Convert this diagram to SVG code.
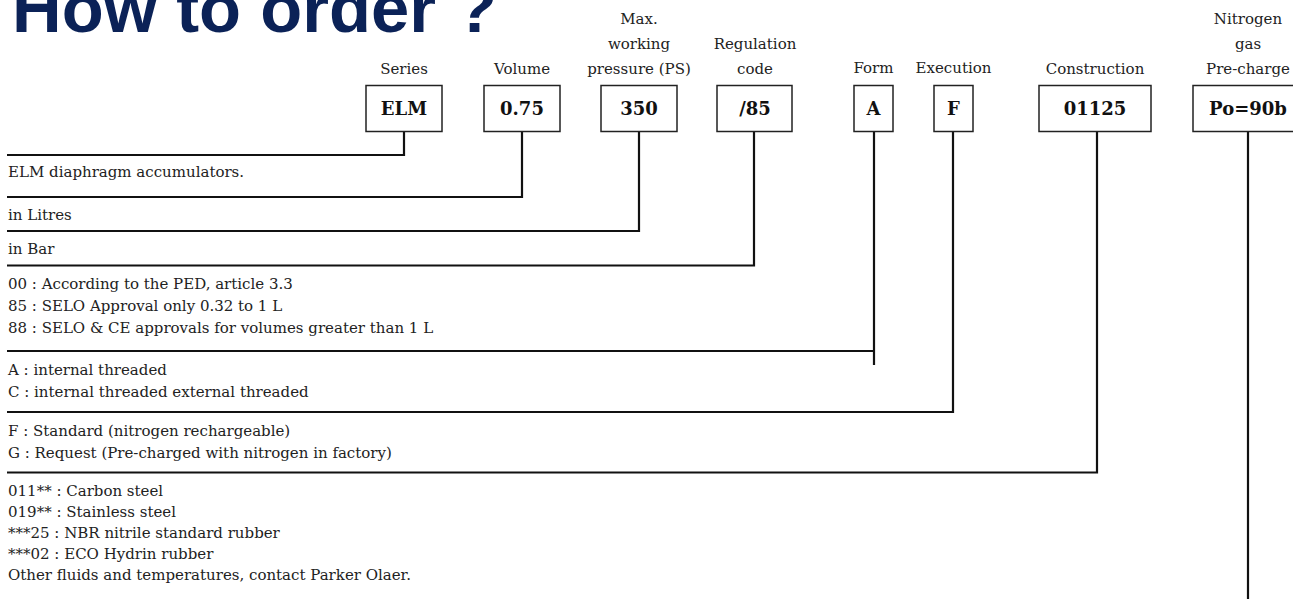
<svg xmlns="http://www.w3.org/2000/svg" width="1293" height="599" viewBox="0 0 1293 599">
<style>
.title{font-family:"Liberation Sans",Arial,sans-serif;font-weight:bold;font-size:68px;fill:#0b2257}
.lbl{font-family:"DejaVu Serif",serif;font-size:15px;fill:#222;text-anchor:middle}
.desc{font-family:"DejaVu Serif",serif;font-size:15px;fill:#222}
.box{fill:#fff;stroke:#222;stroke-width:1.5}
.code{font-family:"DejaVu Serif",serif;font-weight:bold;font-size:18px;fill:#111;text-anchor:middle}
.conn{fill:none;stroke:#111;stroke-width:2.2}
</style>
<rect width="1293" height="599" fill="#fff"/>
<text class="title" x="12" y="32" textLength="485" lengthAdjust="spacingAndGlyphs">How to order ?</text>

<g id="connectors">
<path class="conn" d="M404,131.5 V155 H7"/>
<path class="conn" d="M522,131.5 V197 H7"/>
<path class="conn" d="M639,131.5 V231 H7"/>
<path class="conn" d="M754,131.5 V265.5 H7"/>
<path class="conn" d="M874,131.5 V365 M874,351 H7"/>
<path class="conn" d="M953,131.5 V412 H7"/>
<path class="conn" d="M1097,131.5 V472.5 H7"/>
<path class="conn" d="M1248,131.5 V600"/>
</g>

<g id="series">
<text class="lbl" x="404" y="74">Series</text>
<rect class="box" x="366" y="85.5" width="76" height="46"/>
<text class="code" x="404" y="115">ELM</text>
</g>
<g id="volume">
<text class="lbl" x="522" y="74">Volume</text>
<rect class="box" x="484" y="85.5" width="76" height="46"/>
<text class="code" x="522" y="115">0.75</text>
</g>
<g id="pressure">
<text class="lbl" x="639" y="24">Max.</text>
<text class="lbl" x="639" y="49">working</text>
<text class="lbl" x="639" y="74">pressure (PS)</text>
<rect class="box" x="601" y="85.5" width="76" height="46"/>
<text class="code" x="639" y="115">350</text>
</g>
<g id="regulation">
<text class="lbl" x="755" y="49">Regulation</text>
<text class="lbl" x="755" y="74">code</text>
<rect class="box" x="717" y="85.5" width="75" height="46"/>
<text class="code" x="755" y="115">/85</text>
</g>
<g id="form">
<text class="lbl" x="873.5" y="73">Form</text>
<rect class="box" x="854" y="85.5" width="39" height="46"/>
<text class="code" x="873.5" y="115">A</text>
</g>
<g id="execution">
<text class="lbl" x="953.5" y="73">Execution</text>
<rect class="box" x="934" y="85.5" width="39" height="46"/>
<text class="code" x="953.5" y="115">F</text>
</g>
<g id="construction">
<text class="lbl" x="1095" y="74">Construction</text>
<rect class="box" x="1039" y="85.5" width="112" height="46"/>
<text class="code" x="1095" y="115">01125</text>
</g>
<g id="precharge">
<text class="lbl" x="1248" y="24">Nitrogen</text>
<text class="lbl" x="1248" y="49">gas</text>
<text class="lbl" x="1248" y="74">Pre-charge</text>
<rect class="box" x="1193" y="85.5" width="110" height="46"/>
<text class="code" x="1248" y="115">Po=90b</text>
</g>

<g id="descriptions">
<text class="desc" x="8" y="177">ELM diaphragm accumulators.</text>
<text class="desc" x="8" y="220">in Litres</text>
<text class="desc" x="8" y="254">in Bar</text>
<text class="desc" x="8" y="289">00 : According to the PED, article 3.3</text>
<text class="desc" x="8" y="311">85 : SELO Approval only 0.32 to 1 L</text>
<text class="desc" x="8" y="333">88 : SELO &amp; CE approvals for volumes greater than 1 L</text>
<text class="desc" x="8" y="375">A : internal threaded</text>
<text class="desc" x="8" y="397">C : internal threaded external threaded</text>
<text class="desc" x="8" y="436">F : Standard (nitrogen rechargeable)</text>
<text class="desc" x="8" y="458">G : Request (Pre-charged with nitrogen in factory)</text>
<text class="desc" x="8" y="496">011** : Carbon steel</text>
<text class="desc" x="8" y="517">019** : Stainless steel</text>
<text class="desc" x="8" y="538">***25 : NBR nitrile standard rubber</text>
<text class="desc" x="8" y="559">***02 : ECO Hydrin rubber</text>
<text class="desc" x="8" y="580">Other fluids and temperatures, contact Parker Olaer.</text>
</g>
</svg>
